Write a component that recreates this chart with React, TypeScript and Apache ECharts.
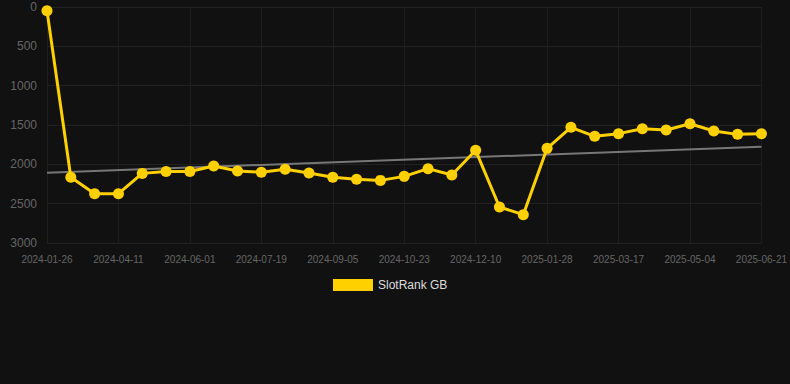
import React, { useEffect, useRef } from "react";
import * as echarts from "echarts";

const categories = [
  "2024-01-26", "2024-02-22", "2024-03-18", "2024-04-11", "2024-04-28", "2024-05-15",
  "2024-06-01", "2024-06-17", "2024-07-03", "2024-07-19", "2024-08-04", "2024-08-20",
  "2024-09-05", "2024-09-21", "2024-10-07", "2024-10-23", "2024-11-08", "2024-11-24",
  "2024-12-10", "2024-12-26", "2025-01-12", "2025-01-28", "2025-02-13", "2025-03-01",
  "2025-03-17", "2025-04-02", "2025-04-18", "2025-05-04", "2025-05-20", "2025-06-05",
  "2025-06-21",
];

const rankValues = [
  47, 2165, 2373, 2373, 2115, 2090, 2090, 2021, 2085, 2100, 2063, 2110,
  2165, 2190, 2204, 2153, 2055, 2136, 1822, 2542, 2640, 1797, 1530, 1644,
  1610, 1547, 1564, 1484, 1576, 1619, 1610,
];

const trendStart = 2106;
const trendEnd = 1776;

const yTicks = { min: 0, max: 3000, interval: 500 };

export default function App() {
  const ref = useRef<HTMLDivElement>(null);
  useEffect(() => {
    document.body.style.margin = "0";
    document.body.style.background = "#111111";
    if (!ref.current) return;
    const chart = echarts.init(ref.current, undefined, { renderer: "svg" });
    const trendData = categories.map((_, i) =>
      i === 0 ? trendStart : i === categories.length - 1 ? trendEnd : null
    );
    chart.setOption({
      animation: false,
      backgroundColor: "#111111",
      grid: { left: 47, right: 28, top: 7, bottom: 141 },
      legend: {
        data: ["SlotRank GB"],
        top: 274,
        left: 328,
        icon: "rect",
        itemWidth: 40,
        itemHeight: 12,
        itemGap: 10,
        textStyle: { color: "#dddddd", fontSize: 12, fontFamily: "Arial, Liberation Sans, sans-serif" },
      },
      xAxis: {
        type: "category",
        data: categories,
        boundaryGap: false,
        axisLine: { show: false },
        axisTick: { show: false },
        axisLabel: {
          interval: 2,
          color: "#666666",
          fontSize: 10,
          margin: 11,
          fontFamily: "Arial, Liberation Sans, sans-serif",
        },
        splitLine: { show: true, interval: 2, lineStyle: { color: "#1e1e1e", width: 1 } },
      },
      yAxis: {
        type: "value",
        inverse: true,
        min: yTicks.min,
        max: yTicks.max,
        interval: yTicks.interval,
        axisLine: { show: false },
        axisTick: { show: false },
        axisLabel: {
          color: "#666666",
          fontSize: 12,
          margin: 10,
          formatter: (v: number) => String(v),
          fontFamily: "Arial, Liberation Sans, sans-serif",
        },
        splitLine: { show: true, lineStyle: { color: "#222222", width: 1 } },
      },
      series: [
        {
          name: "Trend",
          type: "line",
          data: trendData,
          connectNulls: true,
          showSymbol: false,
          symbol: "none",
          lineStyle: { color: "#777777", width: 2 },
          z: 1,
        },
        {
          name: "SlotRank GB",
          type: "line",
          data: rankValues,
          symbol: "circle",
          symbolSize: 11,
          itemStyle: { color: "#FFD000" },
          lineStyle: { color: "#FFD000", width: 3 },
          z: 2,
        },
      ],
    });
    return () => chart.dispose();
  }, []);
  return (
    <div
      ref={ref}
      style={{ position: "fixed", left: 0, top: 0, width: 790, height: 384 }}
    />
  );
}
